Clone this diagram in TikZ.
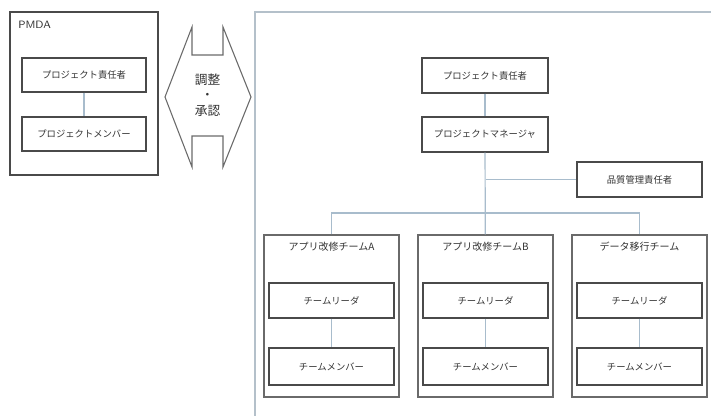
\documentclass[tikz,border=0pt]{standalone}
\usepackage{fontspec}
\newfontfamily\jp{Noto Sans CJK JP}
\usetikzlibrary{calc}
\definecolor{boxline}{HTML}{4A4A4A}
\definecolor{teamline}{HTML}{6A6A6A}
\definecolor{conn}{HTML}{A8BCCC}
\definecolor{bigline}{HTML}{B4C0CA}
\definecolor{txt}{HTML}{333333}
\tikzset{
  role/.style={draw=boxline, line width=0.9pt, minimum width=125*0.75pt, minimum height=35*0.75pt, inner sep=0pt, font=\jp\fontsize{7}{8}\selectfont, text=txt},
  group/.style={draw=teamline, line width=0.9pt, inner sep=0pt},
  connline/.style={draw=conn, line width=0.9pt},
  title/.style={font=\jp\fontsize{7.5}{8}\selectfont, text=txt, inner sep=0pt},
  bigtitle/.style={font=\jp\fontsize{9.5}{10}\selectfont, text=txt, inner sep=0pt},
}
\begin{document}
\begin{tikzpicture}[x=0.75pt,y=-0.75pt]
\useasboundingbox (0,0) rectangle (711,416);
\clip (0,0) rectangle (711,416);
\fill[white] (0,0) rectangle (711,416);
% big organisation frame
\draw[draw=bigline, line width=1pt] (255,12) rectangle (730,440);
% PMDA
\node[group, minimum width=148*0.75pt, minimum height=163*0.75pt, draw=boxline] (pmda) at (84,93.5) {};
\node[title, anchor=west, font=\sffamily\fontsize{8}{9}\selectfont] (pmdalbl) at (18,25) {PMDA};
\node[role, minimum width=124*0.75pt, minimum height=34*0.75pt] (pr1) at (84,75) {プロジェクト責任者};
\node[role, minimum width=124*0.75pt, minimum height=34*0.75pt] (pr2) at (84,134) {プロジェクトメンバー};
\draw[connline] (pr1) -- (pr2);
% double arrow
\draw[draw=teamline, line width=0.8pt] (192,27) -- (192,55) -- (223,55) -- (223,27) -- (251,97) -- (223,167) -- (223,136) -- (192,136) -- (192,167) -- (165,97) -- cycle;
\node[bigtitle] (chosei) at (207.5,80) {調整};
\node[bigtitle] (dot) at (207.5,96) {・};
\node[bigtitle] (shonin) at (207.5,111) {承認};
% top of hierarchy
\node[role, minimum width=126*0.75pt] (resp) at (485,75.5) {プロジェクト責任者};
\node[role, minimum width=126*0.75pt] (pm) at (485,134.5) {プロジェクトマネージャ};
\node[role] (qa) at (639.5,179.5) {品質管理責任者};
% teams
\node[group, minimum width=135*0.75pt, minimum height=162*0.75pt] (tA) at (331.5,316) {};
\node[group, minimum width=135*0.75pt, minimum height=162*0.75pt] (tB) at (485.5,316) {};
\node[group, minimum width=135*0.75pt, minimum height=162*0.75pt] (tC) at (639.5,316) {};
\node[title] (tAl) at (331.5,247) {アプリ改修チームA};
\node[title] (tBl) at (485.5,247) {アプリ改修チームB};
\node[title] (tCl) at (639.5,247) {データ移行チーム};
\node[role] (lA) at (331.5,300.5) {チームリーダ};
\node[role] (lB) at (485.5,300.5) {チームリーダ};
\node[role] (lC) at (639.5,300.5) {チームリーダ};
\node[role, minimum height=37*0.75pt] (mA) at (331.5,366.5) {チームメンバー};
\node[role, minimum height=37*0.75pt] (mB) at (485.5,366.5) {チームメンバー};
\node[role, minimum height=37*0.75pt] (mC) at (639.5,366.5) {チームメンバー};
% connectors
\coordinate (br) at (485.5,213);
\coordinate (qbr) at (485.5,179.5);
\draw[connline] (resp) -- (pm);
\draw[connline] (pm) -- (tB);
\draw[connline] (qbr) -- (qa);
\draw[connline] (tA.north) -- (tA.north |- br) -- (tC.north |- br) -- (tC.north);
\draw[connline] (lA) -- (mA);
\draw[connline] (lB) -- (mB);
\draw[connline] (lC) -- (mC);
\end{tikzpicture}
\end{document}
